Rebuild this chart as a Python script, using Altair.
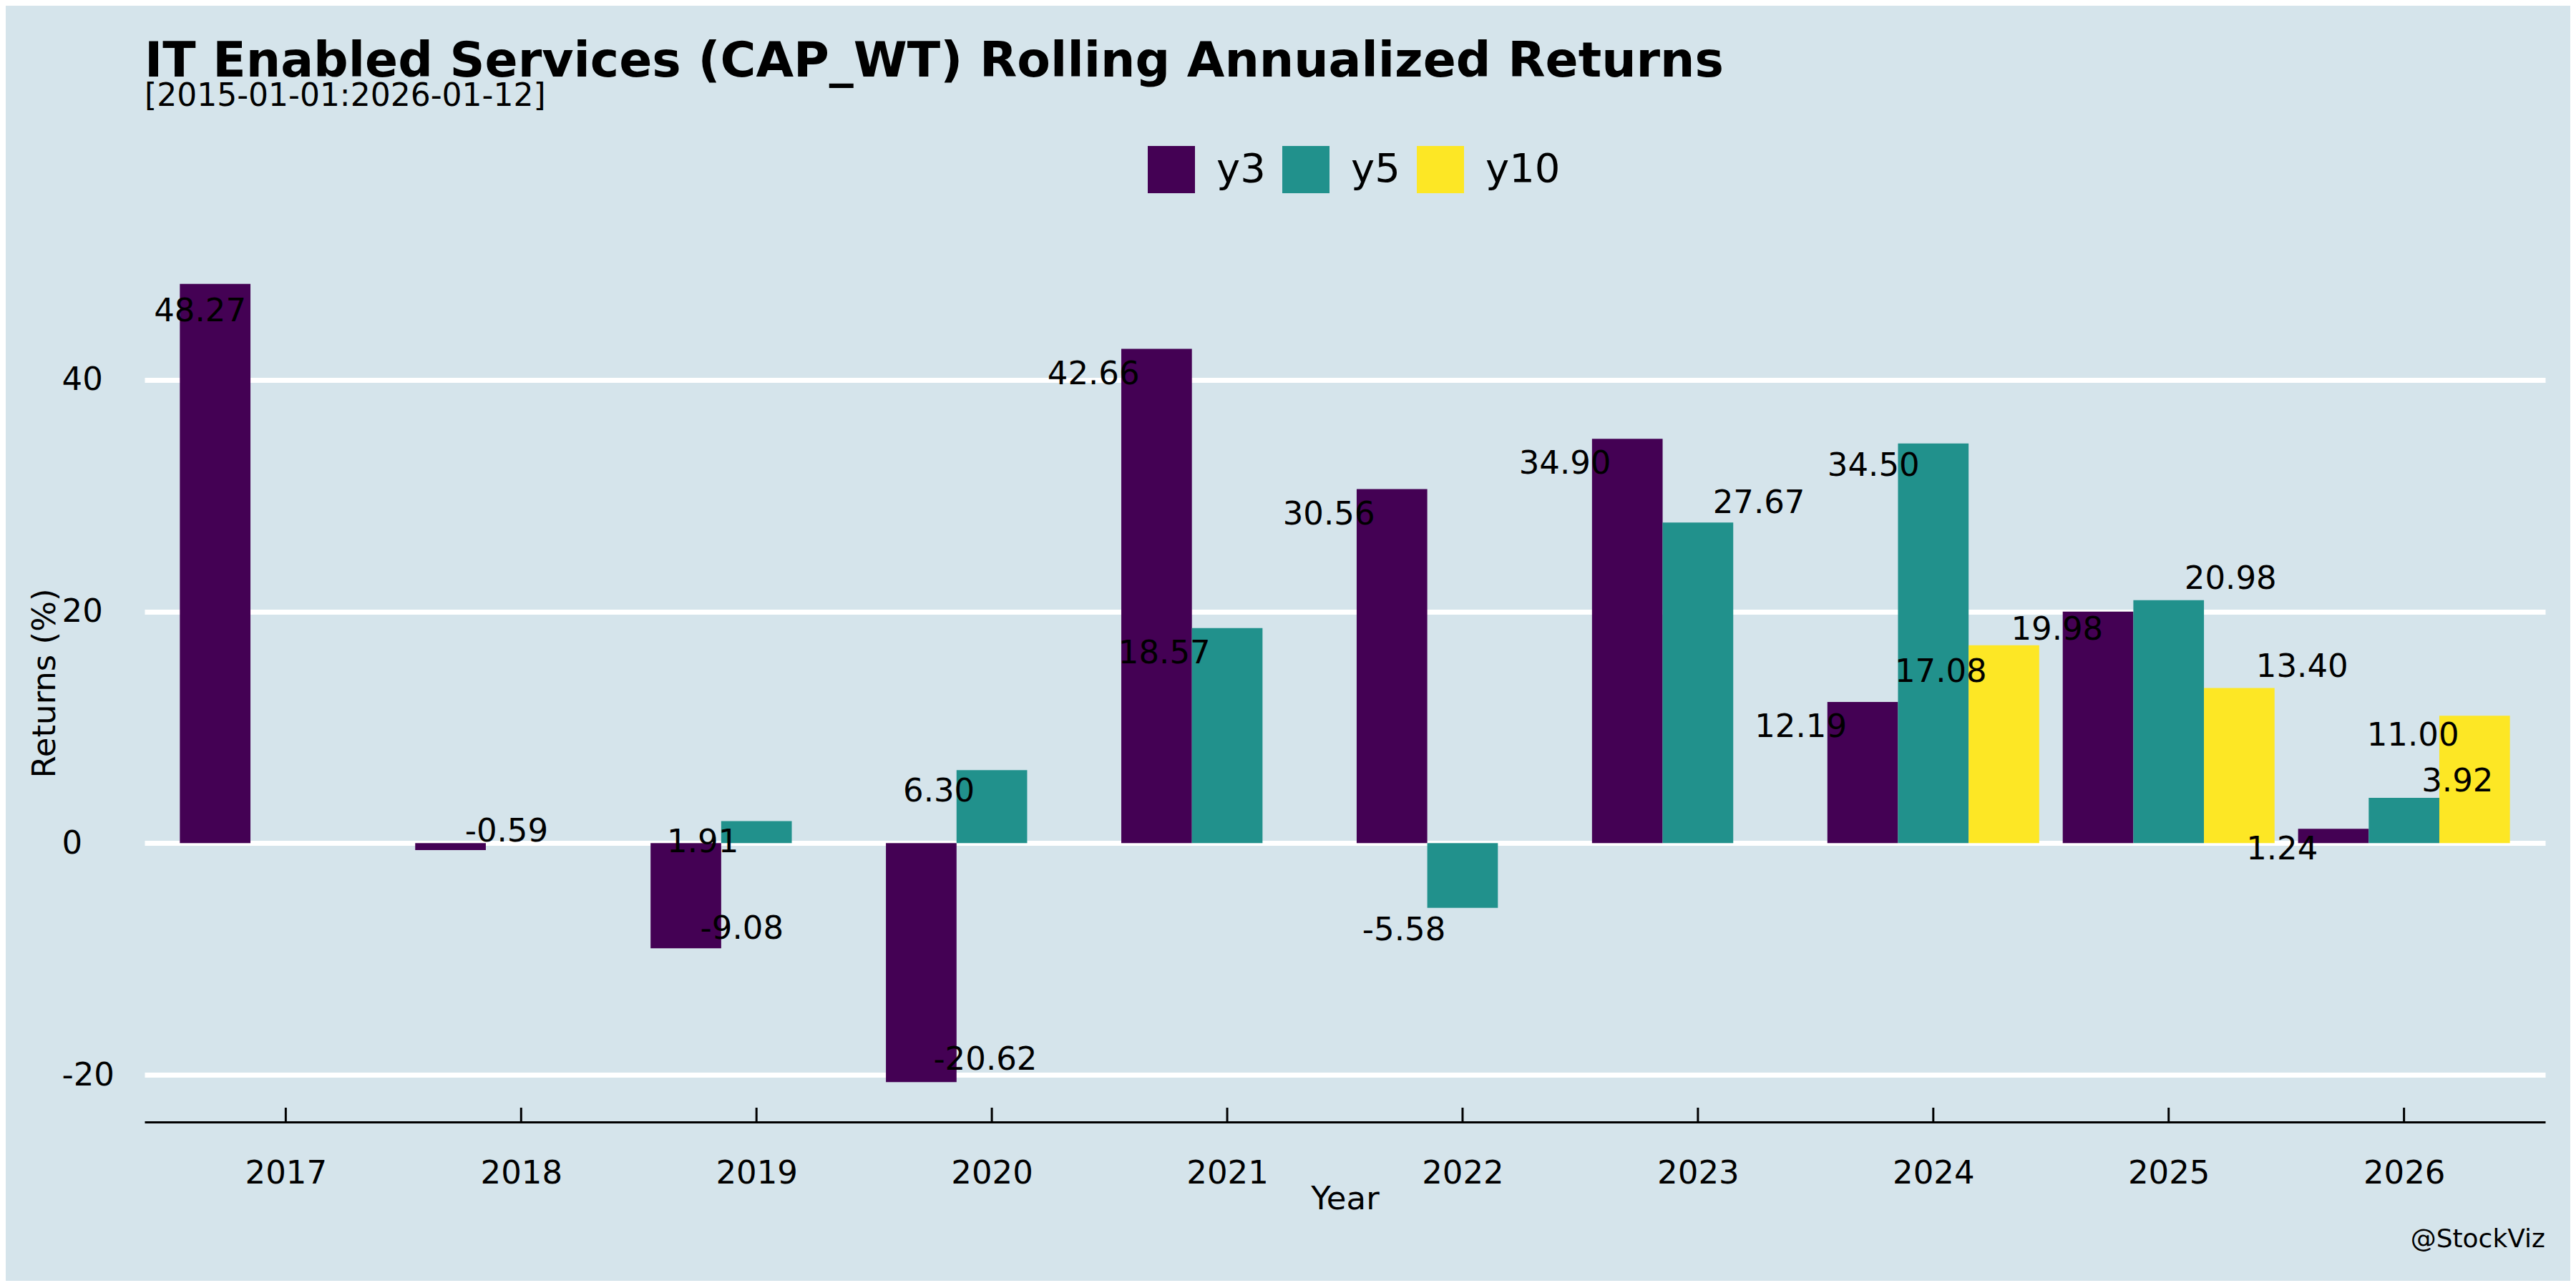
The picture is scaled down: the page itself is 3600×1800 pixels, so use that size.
import altair as alt
import pandas as pd

# ---- data ----
years = [2017, 2018, 2019, 2020, 2021, 2022, 2023, 2024, 2025, 2026]
series_names = ["y3", "y5", "y10"]
y3 = [48.27, -0.59, -9.08, -20.62, 42.66, 30.56, 34.90, 12.19, 19.98, 1.24]
y5 = [None, None, 1.91, 6.30, 18.57, -5.58, 27.67, 34.50, 20.98, 3.92]
y10 = [None, None, None, None, None, None, None, 17.08, 13.40, 11.00]
series_colors = ["#440154", "#21918c", "#fde725"]

# value labels and where they sit in the picture (they were repelled off the bars)
label_values = [48.27, -0.59, 1.91, -9.08, 6.30, -20.62, 42.66, 18.57, 30.56, -5.58,
                34.90, 27.67, 34.50, 12.19, 17.08, 19.98, 20.98, 13.40, 11.00, 3.92, 1.24]
label_year_pos = [2016.636, 2017.938, 2018.772, 2018.938, 2019.775, 2019.972, 2020.432,
                  2020.733, 2021.432, 2021.751, 2022.435, 2023.259, 2023.746, 2023.437,
                  2024.032, 2024.526, 2025.263, 2025.567, 2026.038, 2026.227, 2025.482]
label_return_pos = [46.11, 1.17, 0.25, -7.21, 4.63, -18.53, 40.64, 16.55, 28.54, -7.35,
                    32.95, 29.52, 32.74, 10.22, 14.95, 18.59, 22.98, 15.38, 9.45, 5.50, -0.37]

title_text = "IT Enabled Services (CAP_WT) Rolling Annualized Returns"
subtitle_text = "[2015-01-01:2026-01-12]"
credit_text = "@StockViz"
y_ticks = [-20, 0, 20, 40]

# ---- build tables ----
dodge = 0.3
rows = []
for i, (name, vals) in enumerate(zip(series_names, [y3, y5, y10])):
    for yr, v in zip(years, vals):
        if v is None:
            continue
        c = yr + (i - 1) * dodge
        rows.append({"series": name, "year": yr, "value": v,
                     "x_start": c - dodge / 2, "x_end": c + dodge / 2})
bars_df = pd.DataFrame(rows)

labels_df = pd.DataFrame({"lx": label_year_pos, "ly": label_return_pos,
                          "txt": [f"{v:.2f}" for v in label_values]})
ticks_df = pd.DataFrame({"year": years})
credit_df = pd.DataFrame({"credit": [credit_text]})

all_vals = [v for s in (y3, y5, y10) for v in s if v is not None]
lo, hi = min(all_vals), max(all_vals)
pad_y = 0.05 * (hi - lo)
y_domain = [lo - pad_y, hi + pad_y]
x_domain = [years[0] - 0.6, years[-1] + 0.6]

W, H = 3355, 1227
FONT = "DejaVu Sans"

xs = alt.Scale(domain=x_domain, nice=False, zero=False)
ys = alt.Scale(domain=y_domain, nice=False, zero=False)

x_axis = alt.Axis(
    values=years, format="d", title="Year", grid=False, ticks=False, tickSize=0,
    labelPadding=49, labelFontSize=45, domainColor="black", domainWidth=3,
    titleFontSize=45, titleX=W / 2, titleY=121, titleBaseline="alphabetic",
    titleFontWeight="normal")
y_axis = alt.Axis(
    values=y_ticks, title="Returns (%)", grid=True, gridColor="white", gridWidth=7,
    domain=False, ticks=False, tickSize=0, labelAlign="left", labelPadding=116,
    labelExpr="'' + datum.value",
    labelFontSize=45, titleFontSize=45, titleAngle=270, titleX=-126, titleY=H / 2,
    titleAlign="center", titleBaseline="alphabetic", titleFontWeight="normal")

bars = alt.Chart(bars_df).mark_bar(strokeWidth=0).encode(
    x=alt.X("x_start:Q", scale=xs, axis=x_axis, title="Year"),
    x2="x_end:Q",
    y=alt.Y("value:Q", scale=ys, axis=y_axis, title="Returns (%)"),
    y2=alt.datum(0),
    color=alt.Color("series:N", scale=alt.Scale(domain=series_names, range=series_colors),
                    legend=alt.Legend(orient="none", legendX=1402, legendY=-137,
                                      direction="horizontal", title=None, symbolType="square",
                                      symbolSize=4356, symbolStrokeWidth=0, symbolOpacity=1,
                                      labelFontSize=56, labelOffset=30, columnPadding=23,
                                      padding=0, labelFont=FONT, labelColor="black")),
)

tick_marks = alt.Chart(ticks_df).mark_rule(color="black", strokeWidth=3).encode(
    x=alt.X("year:Q", scale=xs, title="Year"),
    y=alt.value(H - 20),
    y2=alt.value(H),
)

labels = alt.Chart(labels_df).mark_text(fontSize=45, font=FONT, color="black",
                                        align="center", baseline="middle", dy=3).encode(
    x=alt.X("lx:Q", scale=xs, title="Year"),
    y=alt.Y("ly:Q", scale=ys, title="Returns (%)"),
    text="txt:N",
)

credit = alt.Chart(credit_df).mark_text(fontSize=36, font=FONT, color="black",
                                        align="right", baseline="alphabetic").encode(
    x=alt.value(W),
    y=alt.value(1402),
    text="credit:N",
)

chart = alt.layer(bars, tick_marks, labels, credit).properties(
    width=W, height=H,
    title=alt.TitleParams(text=title_text, subtitle=subtitle_text, anchor="start",
                          frame="group", font=FONT, fontSize=68, fontWeight="bold",
                          color="black", subtitleFont=FONT, subtitleFontSize=44,
                          subtitleColor="black", offset=47, subtitlePadding=-8),
    autosize=alt.AutoSizeParams(type="none"),
    padding={"left": 194, "top": 333, "right": 35, "bottom": 222},
    background="#d5e4eb",
).configure_view(stroke="transparent").configure_axis(
    labelFont=FONT, titleFont=FONT, labelColor="black", titleColor="black"
)

chart.save("out.html", embed_options={"renderer": "svg", "actions": False})
